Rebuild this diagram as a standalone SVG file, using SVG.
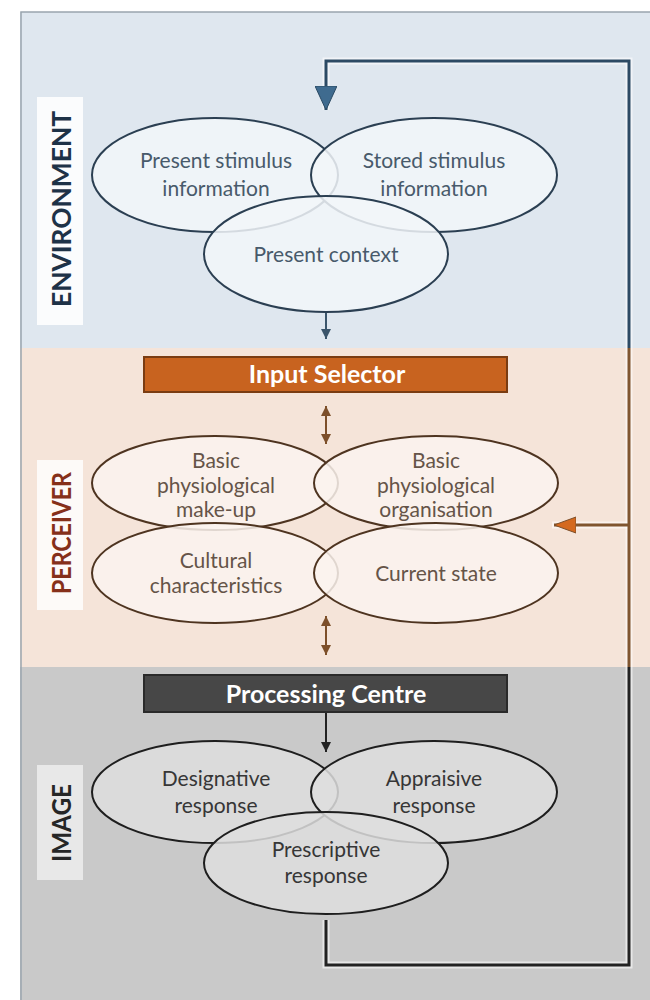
<svg xmlns="http://www.w3.org/2000/svg" width="650" height="1000" viewBox="0 0 650 1000">
  <style>
    .lbl { font-family: Lato, "Liberation Sans", sans-serif; font-weight: bold; text-anchor: middle; }
    .txt { font-family: Lato, "Liberation Sans", sans-serif; font-size: 21px; text-anchor: middle; }
    .env-e { fill: #f2f6f9; fill-opacity: 0.85; stroke: #2b3f52; stroke-width: 2; }
    .per-e { fill: #faf3ee; fill-opacity: 0.85; stroke: #4e3420; stroke-width: 2; }
    .img-e { fill: #dedede; fill-opacity: 0.85; stroke: #1e1e1e; stroke-width: 2; }
    .env-t { fill: #485a6b; }
    .per-t { fill: #655448; }
    .img-t { fill: #363636; }
    .halo { fill: none; stroke: #ffffff; stroke-opacity: 0.55; stroke-width: 7; }
    .loop { fill: none; stroke-width: 3; }
    .link { fill: none; stroke-width: 2; }
  </style>
  <defs>
    <marker id="arrowEnv" viewBox="0 0 22 24" refX="11" refY="24" markerWidth="22" markerHeight="24" markerUnits="userSpaceOnUse" orient="0">
      <path d="M0,0 L22,0 L11,24 Z" fill="#3f6b8f" stroke="#2b4a63" stroke-width="1"/>
    </marker>
    <marker id="arrowBlueSm" viewBox="0 0 10 10" refX="5" refY="10" markerWidth="10" markerHeight="10" markerUnits="userSpaceOnUse" orient="0">
      <path d="M0,0 L10,0 L5,10 Z" fill="#3b556b"/>
    </marker>
    <marker id="arrowBrown" viewBox="0 0 10 10" refX="10" refY="5" markerWidth="10" markerHeight="10" markerUnits="userSpaceOnUse" orient="auto-start-reverse">
      <path d="M0,0 L10,5 L0,10 Z" fill="#7d4f2a"/>
    </marker>
    <marker id="arrowOrange" viewBox="0 0 22 18" refX="0" refY="9" markerWidth="22" markerHeight="18" markerUnits="userSpaceOnUse" orient="0">
      <path d="M0,9 L22,1 L22,17 Z" fill="#d4691f" stroke="#7d4f2a" stroke-width="1"/>
    </marker>
    <marker id="arrowBlack" viewBox="0 0 10 10" refX="5" refY="10" markerWidth="10" markerHeight="10" markerUnits="userSpaceOnUse" orient="0">
      <path d="M0,0 L10,0 L5,10 Z" fill="#222222"/>
    </marker>
  </defs>

  <!-- page and section bands -->
  <rect x="0" y="0" width="650" height="1000" fill="#ffffff"/>
  <rect x="20" y="12" width="640" height="336" fill="#dfe7ef"/>
  <rect x="20" y="348" width="640" height="319" fill="#f5e4d9"/>
  <rect x="20" y="667" width="640" height="333" fill="#c9c9c9"/>
  <path d="M21,1000 L21,12 L650,12" fill="none" stroke="#9aa5ae" stroke-width="1.5"/>

  <!-- section labels -->
  <g id="label-environment">
    <rect x="37" y="97" width="46" height="228" fill="#fbfcfd"/>
    <text class="lbl" x="0" y="0" font-size="27" fill="#1e3247" transform="translate(71,209) rotate(-90)" textLength="196" lengthAdjust="spacingAndGlyphs">ENVIRONMENT</text>
  </g>
  <g id="label-perceiver">
    <rect x="37" y="460" width="46" height="150" fill="#fdfaf8"/>
    <text class="lbl" x="0" y="0" font-size="27" fill="#86301a" transform="translate(71,533) rotate(-90)" textLength="122" lengthAdjust="spacingAndGlyphs">PERCEIVER</text>
  </g>
  <g id="label-image">
    <rect x="37" y="765" width="46" height="115" fill="#e8e8e8"/>
    <text class="lbl" x="0" y="0" font-size="27" fill="#262626" transform="translate(71,823) rotate(-90)" textLength="78" lengthAdjust="spacingAndGlyphs">IMAGE</text>
  </g>

  <!-- connectors -->
  <g id="connectors">
    <!-- feedback loop: image back to environment and perceiver -->
    <path class="halo" d="M326,920 L326,965 L629,965 L629,61 L326,61 L326,110"/>
    <path class="halo" d="M629,525 L552,525"/>
    <path class="loop" stroke="#2c4a64" d="M629,348 L629,61 L326,61 L326,110" marker-end="url(#arrowEnv)"/>
    <path class="loop" stroke="#80552f" d="M629,667 L629,348"/>
    <path class="loop" stroke="#80552f" d="M629,525 L554,525" marker-end="url(#arrowOrange)"/>
    <path class="loop" stroke="#222222" d="M326,920 L326,965 L629,965 L629,667"/>
    <!-- forward flow -->
    <path class="link" stroke="#3b556b" d="M326,312 L326,339" marker-end="url(#arrowBlueSm)"/>
    <path class="link" stroke="#7d4f2a" d="M326,406 L326,444" marker-start="url(#arrowBrown)" marker-end="url(#arrowBrown)"/>
    <path class="link" stroke="#7d4f2a" d="M326,616 L326,655" marker-start="url(#arrowBrown)" marker-end="url(#arrowBrown)"/>
    <path class="link" stroke="#222222" d="M326,712 L326,752" marker-end="url(#arrowBlack)"/>
  </g>

  <!-- environment -->
  <g id="present-stimulus">
    <ellipse class="env-e" cx="215" cy="175" rx="123" ry="57"/>
    <text class="txt env-t" x="216" y="168">Present stimulus</text>
    <text class="txt env-t" x="216" y="196">information</text>
  </g>
  <g id="stored-stimulus">
    <ellipse class="env-e" cx="434" cy="175" rx="123" ry="57"/>
    <text class="txt env-t" x="434" y="168">Stored stimulus</text>
    <text class="txt env-t" x="434" y="196">information</text>
  </g>
  <g id="present-context">
    <ellipse class="env-e" cx="326" cy="254" rx="122" ry="58"/>
    <text class="txt env-t" x="326" y="262">Present context</text>
  </g>

  <!-- perceiver -->
  <g id="input-selector">
    <rect x="144" y="357" width="363" height="35" fill="#c8631f" stroke="#7a3c12" stroke-width="2"/>
    <text class="lbl" x="327" y="383" font-size="25" fill="#ffffff">Input Selector</text>
  </g>
  <g id="make-up">
    <ellipse class="per-e" cx="215" cy="483" rx="123" ry="47"/>
    <text class="txt per-t" x="216" y="468">Basic</text>
    <text class="txt per-t" x="216" y="493">physiological</text>
    <text class="txt per-t" x="216" y="517">make-up</text>
  </g>
  <g id="organisation">
    <ellipse class="per-e" cx="436" cy="483" rx="122" ry="47"/>
    <text class="txt per-t" x="436" y="468">Basic</text>
    <text class="txt per-t" x="436" y="493">physiological</text>
    <text class="txt per-t" x="436" y="517">organisation</text>
  </g>
  <g id="cultural">
    <ellipse class="per-e" cx="215" cy="573" rx="123" ry="50"/>
    <text class="txt per-t" x="216" y="568">Cultural</text>
    <text class="txt per-t" x="216" y="593">characteristics</text>
  </g>
  <g id="current-state">
    <ellipse class="per-e" cx="436" cy="573" rx="122" ry="50"/>
    <text class="txt per-t" x="436" y="581">Current state</text>
  </g>

  <!-- image -->
  <g id="processing-centre">
    <rect x="144" y="675" width="363" height="37" fill="#474747" stroke="#2a2a2a" stroke-width="2"/>
    <text class="lbl" x="326" y="703" font-size="25" fill="#ffffff">Processing Centre</text>
  </g>
  <g id="designative">
    <ellipse class="img-e" cx="215" cy="792" rx="123" ry="51"/>
    <text class="txt img-t" x="216" y="786">Designative</text>
    <text class="txt img-t" x="216" y="813">response</text>
  </g>
  <g id="appraisive">
    <ellipse class="img-e" cx="434" cy="792" rx="123" ry="51"/>
    <text class="txt img-t" x="434" y="786">Appraisive</text>
    <text class="txt img-t" x="434" y="813">response</text>
  </g>
  <g id="prescriptive">
    <ellipse class="img-e" cx="326" cy="863" rx="122" ry="51"/>
    <text class="txt img-t" x="326" y="857">Prescriptive</text>
    <text class="txt img-t" x="326" y="883">response</text>
  </g>
</svg>
